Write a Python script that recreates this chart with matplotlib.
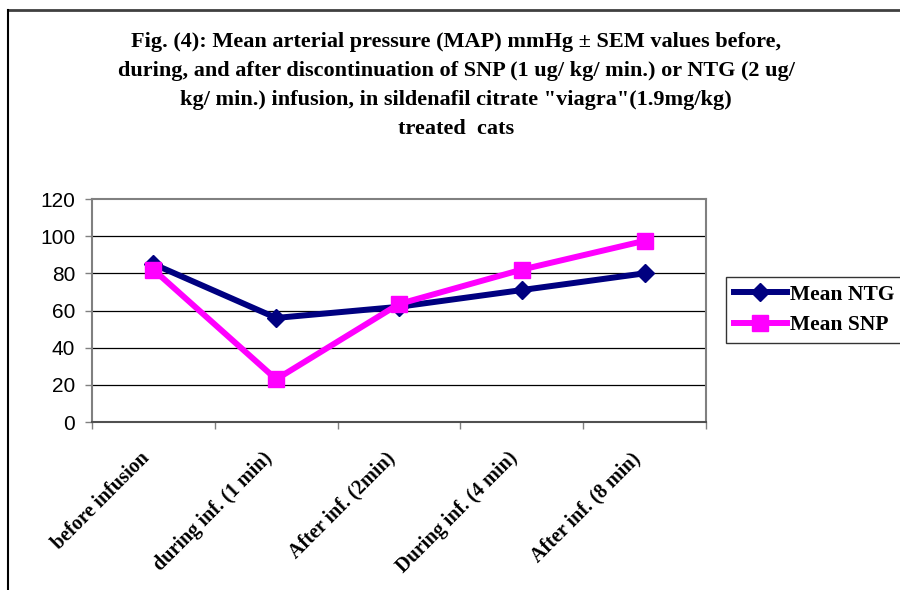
import matplotlib.pyplot as plt
from matplotlib.lines import Line2D

# data
categories = ['before infusion', 'during inf. (1 min)', 'After inf. (2min)',
              'During inf. (4 min)', 'After inf. (8 min)']
mean_ntg = [85, 56, 62, 71, 80]
mean_snp = [82, 23, 63.5, 82, 97.5]
yticks = [0, 20, 40, 60, 80, 100, 120]

title = ('Fig. (4): Mean arterial pressure (MAP) mmHg \u00b1 SEM values before,\n'
         'during, and after discontinuation of SNP (1 ug/ kg/ min.) or NTG (2 ug/\n'
         'kg/ min.) infusion, in sildenafil citrate "viagra"(1.9mg/kg)\n'
         'treated  cats')

serif = 'Liberation Serif'
sans = 'Liberation Sans'

fig = plt.figure(figsize=(9, 5.9), dpi=100)
ax = fig.add_axes([92 / 900, 1 - 422 / 590, (706 - 92) / 900, (422 - 199) / 590])

x = list(range(len(categories)))
ax.plot(x, mean_ntg, color='#000080', lw=4.3, marker='D', ms=9,
        label='Mean NTG', zorder=3)
ax.plot(x, mean_snp, color='#FF00FF', lw=4.3, marker='s', ms=11.5,
        label='Mean SNP', zorder=4)

ax.set_xlim(-0.5, len(categories) - 0.5)
ax.set_ylim(0, 120)
ax.set_yticks(yticks)
ax.set_yticklabels([str(v) for v in yticks], fontsize=15, family=sans)
ax.tick_params(axis='y', length=5, width=1, color='#808080', pad=7)

ax.set_xticks(x)
ax.set_xticklabels(categories, rotation=45, ha='right', va='top',
                   fontsize=14.5, family=serif, fontweight='bold')
ax.tick_params(axis='x', length=0, pad=19)
ax.set_xticks([i + 0.5 for i in range(-1, len(categories))], minor=True)
ax.tick_params(axis='x', which='minor', length=5, width=1, color='#808080')

for v in yticks[1:-1]:
    ax.axhline(v, color='black', lw=0.9, zorder=1)
for side in ['left', 'top', 'right']:
    ax.spines[side].set_color('#808080')
    ax.spines[side].set_linewidth(1.5)
ax.spines['bottom'].set_color('#505050')
ax.spines['bottom'].set_linewidth(1.5)

fig.text(0.507, 1 - 32 / 590, title, ha='center', va='top', fontsize=16,
         family=serif, fontweight='bold', linespacing=1.6)

leg = fig.legend(loc='upper left', bbox_to_anchor=(726 / 900, 1 - 277 / 590),
                 prop={'family': serif, 'weight': 'bold', 'size': 15.5},
                 frameon=True, fancybox=False, edgecolor='black',
                 handlelength=2.5, handletextpad=0.1, borderpad=0.35,
                 labelspacing=0.5, borderaxespad=0)
leg.get_frame().set_linewidth(1)

# outer frame lines (top and left)
fig.add_artist(Line2D([8 / 900, 1], [1 - 10 / 590, 1 - 10 / 590],
                      color='#404040', lw=2))
fig.add_artist(Line2D([8 / 900, 8 / 900], [0, 1 - 10 / 590],
                      color='black', lw=1.5))

fig.savefig('out.png', dpi=100)
